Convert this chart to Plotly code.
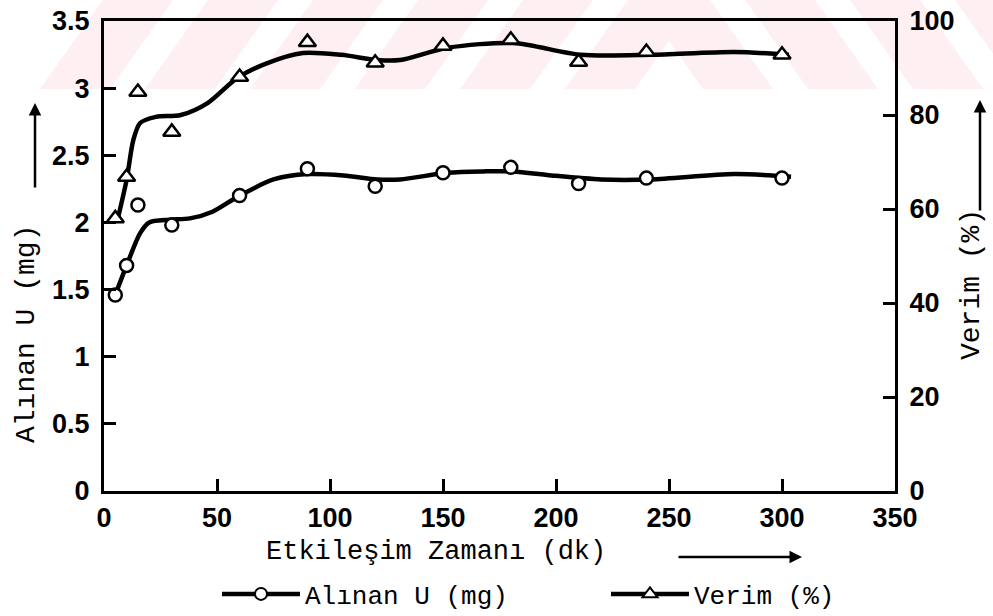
import plotly.graph_objects as go

# ---------------- data ----------------
time_min = [5, 10, 15, 30, 60, 90, 120, 150, 180, 210, 240, 300]
alinan_u = [1.46, 1.68, 2.13, 1.98, 2.20, 2.40, 2.27, 2.37, 2.41, 2.29, 2.33, 2.33]
verim = [58.0, 66.8, 84.9, 76.4, 88.1, 95.5, 91.1, 94.7, 96.0, 91.3, 93.4, 92.8]

# hand-drawn smooth curves of the original
curve_u_x = [5, 10, 16, 20, 29, 38, 48, 59, 75, 90, 106, 121, 131, 152, 168, 181, 198, 220, 242, 279, 304]
curve_u_y = [1.46, 1.68, 1.92, 2.00, 2.02, 2.03, 2.08, 2.19, 2.32, 2.36, 2.35, 2.32, 2.32, 2.37, 2.38,
             2.38, 2.35, 2.32, 2.32, 2.36, 2.34]
curve_v_x = [6, 10, 13, 16, 23, 34, 46, 59, 72, 88, 105, 121, 131, 152, 181, 211, 242, 279, 303]
curve_v_y = [57.7, 66.2, 74.7, 78.3, 79.6, 80.0, 82.6, 87.9, 91.0, 93.2, 92.8, 91.7, 91.7, 94.3, 95.3,
             92.8, 92.8, 93.4, 92.8]

x_ticks = [0, 50, 100, 150, 200, 250, 300, 350]
y1_ticks = [0, 0.5, 1, 1.5, 2, 2.5, 3, 3.5]
y1_labels = ["0", "0.5", "1", "1.5", "2", "2.5", "3", "3.5"]
y2_ticks = [0, 20, 40, 60, 80, 100]

name_u = "Alınan U (mg)"
name_v = "Verim (%)"
x_title = "Etkileşim Zamanı (dk)"

# ---------------- layout geometry ----------------
W, H = 993, 616
L, R, T, B = 104, 895, 21, 491
PW, PH = R - L, B - T

def px(x):
    return (x - L) / PW

def py(y):
    return (B - y) / PH

MONO = "Liberation Mono, Courier New, monospace"
SANS = "Liberation Sans, Arial, sans-serif"

fig = go.Figure()

# curves
fig.add_trace(go.Scatter(x=curve_u_x, y=curve_u_y, mode="lines", line=dict(color="black", width=4.5, shape="spline", smoothing=0.8),
                         showlegend=False, hoverinfo="skip"))
fig.add_trace(go.Scatter(x=curve_v_x, y=curve_v_y, mode="lines", yaxis="y2",
                         line=dict(color="black", width=4.5, shape="spline", smoothing=0.8),
                         showlegend=False, hoverinfo="skip"))
# points
fig.add_trace(go.Scatter(x=time_min, y=alinan_u, mode="markers", name=name_u, showlegend=False,
                         marker=dict(symbol="circle", size=13, color="white", line=dict(color="black", width=2.5))))
fig.add_trace(go.Scatter(x=time_min, y=verim, mode="markers", yaxis="y2", name=name_v, showlegend=False,
                         marker=dict(symbol="triangle-up", size=15, color="white", line=dict(color="black", width=2.5))))
# legend entries
fig.add_trace(go.Scatter(x=[None], y=[None], mode="lines+markers", name=name_u,
                         line=dict(color="black", width=4.5),
                         marker=dict(symbol="circle", size=12, color="white", line=dict(color="black", width=2))))
fig.add_trace(go.Scatter(x=[None], y=[None], mode="lines+markers", name=name_v,
                         line=dict(color="black", width=4.5),
                         marker=dict(symbol="triangle-up", size=13, color="white", line=dict(color="black", width=2))))

# faint pink watermark band at the top
shapes = []
pink = "#fdeff2"
for b in [40, 145, 250, 355, 460, 565]:
    pts = [(b, 89), (b + 70, 89), (b + 133, 0), (b + 63, 0)]
    path = "M " + " L ".join(f"{px(a):.4f},{py(c):.4f}" for a, c in pts) + " Z"
    shapes.append(dict(type="path", path=path, xref="paper", yref="paper", fillcolor=pink,
                       line=dict(width=0), layer="below"))
for t in [640, 745, 850, 955]:
    pts = [(t, 0), (t + 70, 0), (t + 133, 89), (t + 63, 89)]
    path = "M " + " L ".join(f"{px(a):.4f},{py(c):.4f}" for a, c in pts) + " Z"
    shapes.append(dict(type="path", path=path, xref="paper", yref="paper", fillcolor=pink,
                       line=dict(width=0), layer="below"))

titlefont = dict(family=MONO, size=28, color="black")

annotations = [
    dict(text=name_u, x=px(26), y=py(334), xref="paper", yref="paper", showarrow=False, textangle=-90,
         xanchor="center", yanchor="middle", font=titlefont),
    dict(text="", x=px(35), y=py(103), xref="paper", yref="paper", showarrow=True, ax=0, ay=86,
         arrowhead=2, arrowsize=1, arrowwidth=2.5, arrowcolor="black", standoff=0),
    dict(text=name_v, x=px(972), y=py(285), xref="paper", yref="paper", showarrow=False, textangle=-90,
         xanchor="center", yanchor="middle", font=titlefont),
    dict(text="", x=px(980), y=py(100), xref="paper", yref="paper", showarrow=True, ax=0, ay=112,
         arrowhead=2, arrowsize=1, arrowwidth=2.5, arrowcolor="black", standoff=0),
    dict(text=x_title, x=px(436), y=py(552), xref="paper", yref="paper", showarrow=False,
         xanchor="center", yanchor="middle", font=dict(family=MONO, size=27, color="black")),
    dict(text="", x=px(802), y=py(557), xref="paper", yref="paper", showarrow=True, ax=-125, ay=0,
         arrowhead=2, arrowsize=1, arrowwidth=2.5, arrowcolor="black", standoff=0),
]

tickfont = dict(family=SANS, size=27, color="black", weight="bold")

fig.update_layout(
    width=W, height=H,
    margin=dict(l=L, r=W - R, t=T, b=H - B, pad=0, autoexpand=False),
    paper_bgcolor="white", plot_bgcolor="rgba(0,0,0,0)",
    shapes=shapes, annotations=annotations,
    xaxis=dict(range=[0, 350], tickvals=x_ticks, ticks="inside", ticklen=12, tickwidth=2.5, tickcolor="black",
               showline=True, linewidth=3, linecolor="black", mirror=True, showgrid=False, zeroline=False,
               tickfont=tickfont, ticklabelstandoff=1, automargin=False),
    yaxis=dict(range=[0, 3.5], tickvals=y1_ticks, ticktext=y1_labels, ticks="inside", ticklen=12, tickwidth=2.5,
               tickcolor="black", showline=True, linewidth=3, linecolor="black", showgrid=False, zeroline=False,
               tickfont=tickfont, ticklabelstandoff=6, automargin=False),
    yaxis2=dict(range=[0, 100], tickvals=y2_ticks, overlaying="y", side="right", ticks="inside", ticklen=12,
                tickwidth=2.5, tickcolor="black", showline=True, linewidth=3, linecolor="black", showgrid=False,
                zeroline=False, tickfont=tickfont, ticklabelstandoff=6, automargin=False),
    legend=dict(orientation="h", x=px(217), y=py(594), xanchor="left", yanchor="middle",
                font=dict(family=MONO, size=26, color="black"), itemwidth=78,
                entrywidth=296, entrywidthmode="pixels", bgcolor="rgba(0,0,0,0)", borderwidth=0),
    showlegend=True,
)

fig.write_html("out.html")
